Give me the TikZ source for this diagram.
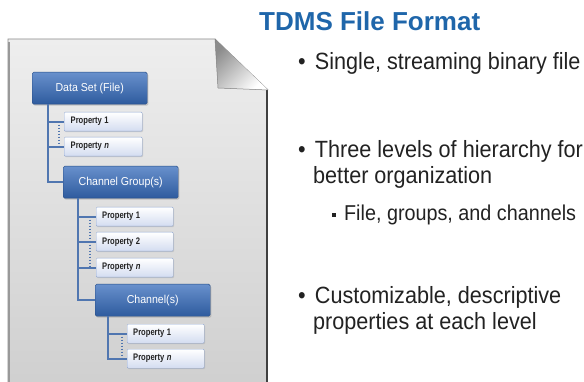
\documentclass[tikz,border=0pt]{standalone}
\usepackage{fontspec}
\setmainfont{Liberation Sans}
\usetikzlibrary{shadows}
\definecolor{titleblue}{HTML}{1F66AA}
\definecolor{boxtop}{HTML}{6890CC}
\definecolor{boxbot}{HTML}{2E5B9E}
\definecolor{boxedge}{HTML}{264C85}
\definecolor{propbot}{HTML}{D3DCF0}
\definecolor{propedge}{HTML}{93A9D2}
\definecolor{linecol}{HTML}{5076B0}
\definecolor{pagetop}{HTML}{EEEEEE}
\definecolor{pagebot}{HTML}{CFCFCF}
\definecolor{textcol}{HTML}{222222}
\newcommand{\narrowtxt}[2][0.92]{\scalebox{#1}[1]{#2}}
\begin{document}
\begin{tikzpicture}[x=1pt,y=-1pt,
  bluebox/.style={draw=boxedge, rounded corners=1.5pt, top color=boxtop, bottom color=boxbot,
    text=white, font=\fontsize{11.5}{12}\selectfont, inner sep=0pt, anchor=north west,
    minimum width=115pt, minimum height=32pt,
    drop shadow={opacity=0.35, shadow xshift=1.2pt, shadow yshift=-1.5pt}},
  propbox/.style={draw=propedge, rounded corners=1pt, top color=white, bottom color=propbot,
    text=textcol, font=\fontsize{9.5}{10}\selectfont\bfseries, inner xsep=6pt, inner ysep=0pt,
    anchor=north west, minimum height=19pt, text width=65pt, align=left,
    drop shadow={opacity=0.25, shadow xshift=0.8pt, shadow yshift=-1pt}},
  tree/.style={draw=linecol, line width=1.8pt},
  dots/.style={draw=linecol, line width=1.2pt, dash pattern=on 1.5pt off 1.5pt},
  bul/.style={anchor=base west, inner sep=0pt, text=textcol, font=\fontsize{23.5}{26}\selectfont},
  subbul/.style={anchor=base west, inner sep=0pt, text=textcol, font=\fontsize{21.5}{24}\selectfont}
]
\useasboundingbox (0,0) rectangle (584,382);
\fill[white] (0,0) rectangle (584,382);
% page
\shade[top color=pagetop, bottom color=pagebot] (8,39) -- (215,39) -- (268,90) -- (268,390) -- (8,390) -- cycle;
\draw[black!45, line width=0.8pt] (268,90) -- (215,39) -- (8,39) -- (8,390);
\draw[black!40, line width=1.5pt] (9,42) -- (9,390);
\draw[black!75, line width=2.5pt] (267,90) -- (267,390);
% fold
\shade[left color=black!45, right color=white, shading angle=45] (215,39) -- (218,88) -- (268,90) -- cycle;
\draw[black!50, line width=0.5pt] (215,39) -- (218,88) -- (268,90);
% tree nodes
\node[bluebox] (ds) at (32,72) {\narrowtxt{Data Set (File)}};
\node[propbox, minimum width=78pt] (dp1) at (64,112) {\narrowtxt[0.8]{Property 1}};
\node[propbox, minimum width=78pt] (dpn) at (64,137) {\narrowtxt[0.8]{Property \textit{n}}};
\node[bluebox] (cg) at (63,166) {\narrowtxt{Channel Group(s)}};
\node[propbox, minimum width=77pt] (cp1) at (96,207) {\narrowtxt[0.8]{Property 1}};
\node[propbox, minimum width=77pt] (cp2) at (96,232) {\narrowtxt[0.8]{Property 2}};
\node[propbox, minimum width=77pt] (cpn) at (96,258) {\narrowtxt[0.8]{Property \textit{n}}};
\node[bluebox] (ch) at (95,284) {\narrowtxt{Channel(s)}};
\node[propbox, minimum width=77pt] (hp1) at (127,324) {\narrowtxt[0.8]{Property 1}};
\node[propbox, minimum width=77pt] (hpn) at (127,349) {\narrowtxt[0.8]{Property \textit{n}}};
\coordinate (dsx) at ([xshift=16pt]ds.south west);
\coordinate (cgx) at ([xshift=15pt]cg.south west);
\coordinate (chx) at ([xshift=13pt]ch.south west);
\draw[tree] (dsx) |- (cg.west);
\draw[tree] (dsx |- dp1.west) -- (dp1.west);
\draw[tree] (dsx |- dpn.west) -- (dpn.west);
\draw[tree] (cgx) |- (ch.west);
\draw[tree] (cgx |- cp1.west) -- (cp1.west);
\draw[tree] (cgx |- cp2.west) -- (cp2.west);
\draw[tree] (cgx |- cpn.west) -- (cpn.west);
\draw[tree] (chx) |- (hpn.west);
\draw[tree] (chx |- hp1.west) -- (hp1.west);
\draw[dots] ([xshift=-5pt]dp1.west) -- ([xshift=-5pt]dpn.west);
\draw[dots] ([xshift=-6pt]cp1.west) -- ([xshift=-6pt]cp2.west);
\draw[dots] ([xshift=-6pt]cp2.west) -- ([xshift=-6pt]cpn.west);
\draw[dots] ([xshift=-5pt]hp1.west) -- ([xshift=-5pt]hpn.west);
% title
\node[anchor=base west, inner sep=0pt, text=titleblue, font=\fontsize{26}{28}\selectfont\bfseries] (title) at (259,31) {TDMS File Format};
% bullets
\node[bul] (b1) at (298,70) {\narrowtxt{•\hspace{10pt}Single, streaming binary file}};
\node[bul] (b2) at (298,158) {\narrowtxt{•\hspace{10pt}Three levels of hierarchy for}};
\node[bul] (b2c) at (313,184) {\narrowtxt{better organization}};
\node[subbul] (b3) at (332,221) {\narrowtxt{\raisebox{4pt}{\rule{4pt}{4pt}}\hspace{9pt}File, groups, and channels}};
\node[bul] (b4) at (298,303) {\narrowtxt{•\hspace{10pt}Customizable, descriptive}};
\node[bul] (b4c) at (313,329) {\narrowtxt{properties at each level}};
\end{tikzpicture}
\end{document}
